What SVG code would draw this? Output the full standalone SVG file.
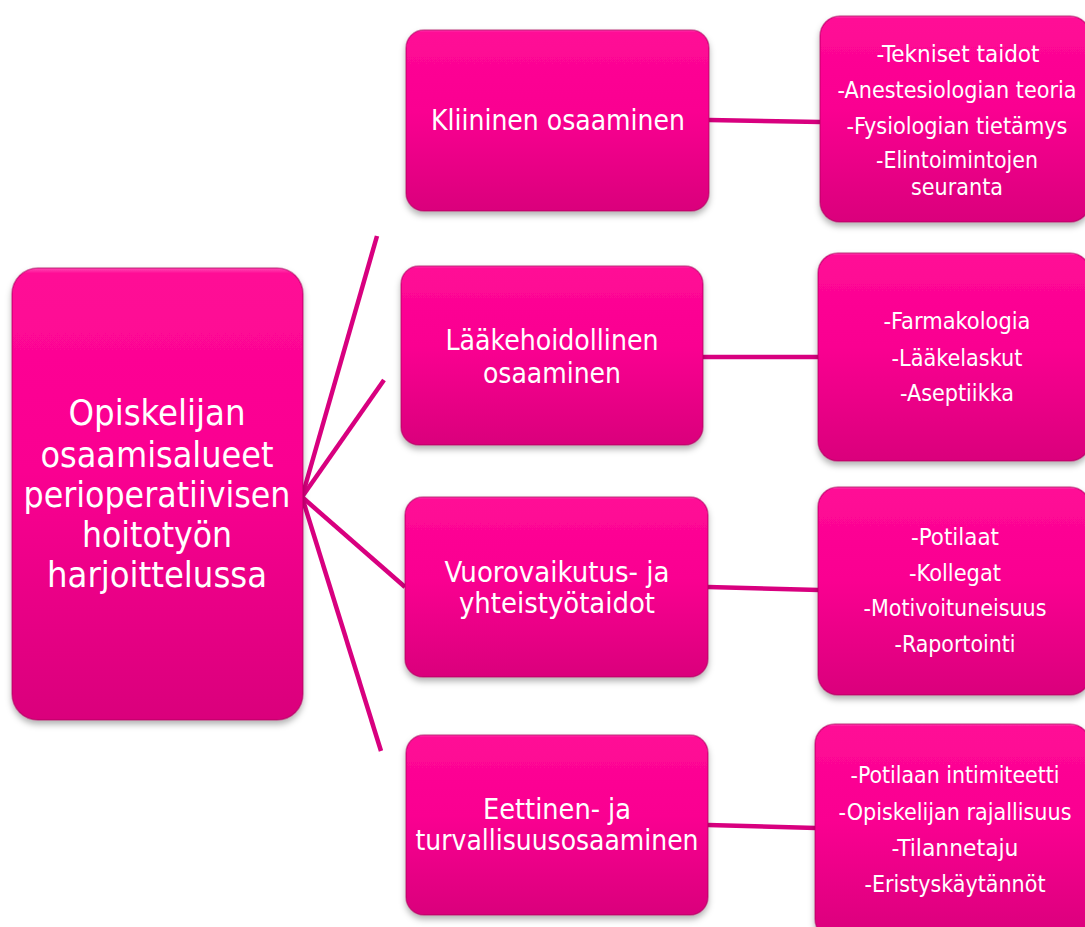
<svg xmlns="http://www.w3.org/2000/svg" width="1085" height="927" viewBox="0 0 1085 927">
<style>
.box{fill:url(#g);stroke:#A8005A;stroke-opacity:0.5;stroke-width:1.5;filter:url(#sh)}
.t{font-family:"DejaVu Sans Condensed","DejaVu Sans",sans-serif;fill:#fff;text-anchor:middle}
.big{font-size:36px}
.mid{font-size:29px}
.sm{font-size:23.5px}
.c{stroke:#D8007F;stroke-width:4.5;fill:none}
</style>
<defs>
<linearGradient id="g" x1="0" y1="0" x2="0" y2="1">
<stop offset="0" stop-color="#FF4AB4"/>
<stop offset="0.012" stop-color="#FF0A96"/>
<stop offset="0.45" stop-color="#FA0091"/>
<stop offset="1" stop-color="#DA007C"/>
</linearGradient>
<filter id="sh" x="-10%" y="-10%" width="120%" height="125%">
<feDropShadow dx="0" dy="4" stdDeviation="3" flood-color="#000" flood-opacity="0.3"/>
</filter>
</defs>
<rect width="1085" height="927" fill="#fff"/>
<g id="connectors">
<line class="c" x1="302" y1="497" x2="377" y2="236"/>
<line class="c" x1="302" y1="497" x2="384" y2="380"/>
<line class="c" x1="302" y1="497" x2="405" y2="587"/>
<line class="c" x1="302" y1="497" x2="381" y2="751"/>
<line class="c" x1="709" y1="120" x2="821" y2="122"/>
<line class="c" x1="703" y1="357" x2="819" y2="357"/>
<line class="c" x1="708" y1="587" x2="819" y2="590"/>
<line class="c" x1="708" y1="825" x2="816" y2="828"/>
</g>
<g id="main">
<rect class="box" x="12" y="268" width="291" height="452" rx="26"/>
<text class="t big" x="157" y="425" textLength="177" lengthAdjust="spacingAndGlyphs">Opiskelijan</text>
<text class="t big" x="157" y="467" textLength="233" lengthAdjust="spacingAndGlyphs">osaamisalueet</text>
<text class="t big" x="157" y="507" textLength="267" lengthAdjust="spacingAndGlyphs">perioperatiivisen</text>
<text class="t big" x="157" y="547" textLength="150" lengthAdjust="spacingAndGlyphs">hoitotyön</text>
<text class="t big" x="157" y="587" textLength="220" lengthAdjust="spacingAndGlyphs">harjoittelussa</text>
</g>
<g id="kliininen">
<rect class="box" x="406" y="30" width="303" height="181" rx="18"/>
<text class="t mid" x="558" y="130" textLength="254" lengthAdjust="spacingAndGlyphs">Kliininen osaaminen</text>
</g>
<g id="laakehoidollinen">
<rect class="box" x="401" y="266" width="302" height="179" rx="18"/>
<text class="t mid" x="552" y="350" textLength="213" lengthAdjust="spacingAndGlyphs">Lääkehoidollinen</text>
<text class="t mid" x="552" y="383" textLength="138" lengthAdjust="spacingAndGlyphs">osaaminen</text>
</g>
<g id="vuorovaikutus">
<rect class="box" x="405" y="497" width="303" height="180" rx="18"/>
<text class="t mid" x="557" y="582" textLength="225" lengthAdjust="spacingAndGlyphs">Vuorovaikutus- ja</text>
<text class="t mid" x="557" y="613" textLength="196" lengthAdjust="spacingAndGlyphs">yhteistyötaidot</text>
</g>
<g id="eettinen">
<rect class="box" x="406" y="735" width="302" height="180" rx="18"/>
<text class="t mid" x="557" y="819" textLength="148" lengthAdjust="spacingAndGlyphs">Eettinen- ja</text>
<text class="t mid" x="557" y="850" textLength="283" lengthAdjust="spacingAndGlyphs">turvallisuusosaaminen</text>
</g>
<g id="r1">
<rect class="box" x="820" y="16" width="270" height="206" rx="20"/>
<text class="t sm" x="958" y="62" textLength="163" lengthAdjust="spacingAndGlyphs">-Tekniset taidot</text>
<text class="t sm" x="957" y="98" textLength="239" lengthAdjust="spacingAndGlyphs">-Anestesiologian teoria</text>
<text class="t sm" x="957" y="134" textLength="221" lengthAdjust="spacingAndGlyphs">-Fysiologian tietämys</text>
<text class="t sm" x="957" y="168" textLength="162" lengthAdjust="spacingAndGlyphs">-Elintoimintojen</text>
<text class="t sm" x="957" y="195" textLength="92" lengthAdjust="spacingAndGlyphs">seuranta</text>
</g>
<g id="r2">
<rect class="box" x="818" y="253" width="272" height="208" rx="20"/>
<text class="t sm" x="957" y="329" textLength="147" lengthAdjust="spacingAndGlyphs">-Farmakologia</text>
<text class="t sm" x="957" y="366" textLength="131" lengthAdjust="spacingAndGlyphs">-Lääkelaskut</text>
<text class="t sm" x="957" y="401" textLength="114" lengthAdjust="spacingAndGlyphs">-Aseptiikka</text>
</g>
<g id="r3">
<rect class="box" x="818" y="487" width="272" height="208" rx="20"/>
<text class="t sm" x="955" y="545" textLength="88" lengthAdjust="spacingAndGlyphs">-Potilaat</text>
<text class="t sm" x="955" y="581" textLength="92" lengthAdjust="spacingAndGlyphs">-Kollegat</text>
<text class="t sm" x="955" y="616" textLength="183" lengthAdjust="spacingAndGlyphs">-Motivoituneisuus</text>
<text class="t sm" x="955" y="652" textLength="121" lengthAdjust="spacingAndGlyphs">-Raportointi</text>
</g>
<g id="r4">
<rect class="box" x="815" y="724" width="275" height="215" rx="20"/>
<text class="t sm" x="955" y="783" textLength="209" lengthAdjust="spacingAndGlyphs">-Potilaan intimiteetti</text>
<text class="t sm" x="955" y="820" textLength="233" lengthAdjust="spacingAndGlyphs">-Opiskelijan rajallisuus</text>
<text class="t sm" x="955" y="856" textLength="127" lengthAdjust="spacingAndGlyphs">-Tilannetaju</text>
<text class="t sm" x="955" y="892" textLength="181" lengthAdjust="spacingAndGlyphs">-Eristyskäytännöt</text>
</g>
</svg>
